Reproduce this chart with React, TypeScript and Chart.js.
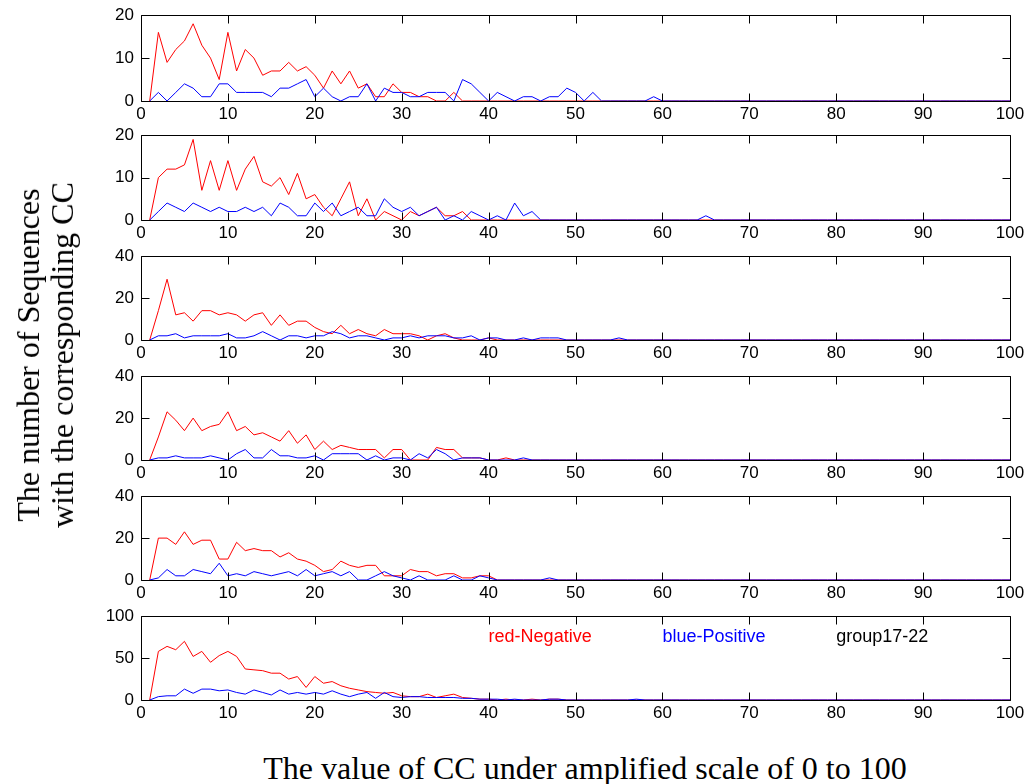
import React, { useEffect, useRef } from 'react';
import { Chart, registerables } from 'chart.js';

Chart.register(...registerables);

// ---------- data (counts per CC value, CC = 1..100) ----------
const yMaxes = [20, 20, 40, 40, 40, 100];
const xTickValues = [0, 10, 20, 30, 40, 50, 60, 70, 80, 90, 100];

const red1 = [
  0, 16, 9, 12, 14, 18, 13, 10, 5, 16,
  7, 12, 10, 6, 7, 7, 9, 7, 8, 6,
  3, 7, 4, 7, 3, 4, 1, 1, 4, 2,
  2, 1, 1, 0, 0, 2, 0, 0, 0, 0,
  0, 0, 0, 0, 0, 0, 0, 0, 0, 0,
  0, 0, 0, 0, 0, 0, 0, 0, 0, 0,
  0, 0, 0, 0, 0, 0, 0, 0, 0, 0,
  0, 0, 0, 0, 0, 0, 0, 0, 0, 0,
  0, 0, 0, 0, 0, 0, 0, 0, 0, 0,
  0, 0, 0, 0, 0, 0, 0, 0, 0, 0,
];
const blue1 = [
  0, 2, 0, 2, 4, 3, 1, 1, 4, 4,
  2, 2, 2, 2, 1, 3, 3, 4, 5, 1,
  3, 1, 0, 1, 1, 4, 0, 3, 2, 2,
  1, 1, 2, 2, 2, 0, 5, 4, 2, 0,
  2, 1, 0, 1, 1, 0, 1, 1, 3, 2,
  0, 2, 0, 0, 0, 0, 0, 0, 1, 0,
  0, 0, 0, 0, 0, 0, 0, 0, 0, 0,
  0, 0, 0, 0, 0, 0, 0, 0, 0, 0,
  0, 0, 0, 0, 0, 0, 0, 0, 0, 0,
  0, 0, 0, 0, 0, 0, 0, 0, 0, 0,
];
const red2 = [
  0, 10, 12, 12, 13, 19, 7, 14, 7, 14,
  7, 12, 15, 9, 8, 10, 6, 11, 5, 6,
  3, 1, 5, 9, 1, 5, 0, 2, 1, 0,
  2, 1, 2, 3, 1, 1, 2, 0, 0, 0,
  0, 0, 0, 0, 0, 0, 0, 0, 0, 0,
  0, 0, 0, 0, 0, 0, 0, 0, 0, 0,
  0, 0, 0, 0, 0, 0, 0, 0, 0, 0,
  0, 0, 0, 0, 0, 0, 0, 0, 0, 0,
  0, 0, 0, 0, 0, 0, 0, 0, 0, 0,
  0, 0, 0, 0, 0, 0, 0, 0, 0, 0,
];
const blue2 = [
  0, 2, 4, 3, 2, 4, 3, 2, 3, 2,
  2, 3, 2, 3, 1, 4, 3, 1, 1, 4,
  2, 4, 1, 2, 3, 1, 1, 5, 3, 2,
  3, 1, 2, 3, 0, 1, 0, 2, 1, 0,
  1, 0, 4, 1, 2, 0, 0, 0, 0, 0,
  0, 0, 0, 0, 0, 0, 0, 0, 0, 0,
  0, 0, 0, 0, 1, 0, 0, 0, 0, 0,
  0, 0, 0, 0, 0, 0, 0, 0, 0, 0,
  0, 0, 0, 0, 0, 0, 0, 0, 0, 0,
  0, 0, 0, 0, 0, 0, 0, 0, 0, 0,
];
const red3 = [
  0, 14, 29, 12, 13, 9, 14, 14, 12, 13,
  12, 9, 12, 13, 7, 12, 7, 9, 9, 6,
  4, 3, 7, 3, 5, 3, 2, 5, 3, 3,
  3, 2, 0, 2, 3, 1, 0, 0, 0, 1,
  0, 0, 0, 0, 0, 0, 0, 0, 0, 0,
  0, 0, 0, 0, 0, 0, 0, 0, 0, 0,
  0, 0, 0, 0, 0, 0, 0, 0, 0, 0,
  0, 0, 0, 0, 0, 0, 0, 0, 0, 0,
  0, 0, 0, 0, 0, 0, 0, 0, 0, 0,
  0, 0, 0, 0, 0, 0, 0, 0, 0, 0,
];
const blue3 = [
  0, 2, 2, 3, 1, 2, 2, 2, 2, 3,
  1, 1, 2, 4, 2, 0, 2, 2, 1, 2,
  2, 4, 3, 1, 2, 2, 1, 0, 1, 1,
  2, 1, 2, 2, 2, 1, 1, 2, 0, 1,
  1, 0, 0, 1, 0, 1, 1, 1, 0, 0,
  0, 0, 0, 0, 1, 0, 0, 0, 0, 0,
  0, 0, 0, 0, 0, 0, 0, 0, 0, 0,
  0, 0, 0, 0, 0, 0, 0, 0, 0, 0,
  0, 0, 0, 0, 0, 0, 0, 0, 0, 0,
  0, 0, 0, 0, 0, 0, 0, 0, 0, 0,
];
const red4 = [
  0, 11, 23, 19, 14, 20, 14, 16, 17, 23,
  14, 16, 12, 13, 11, 9, 14, 8, 12, 5,
  9, 5, 7, 6, 5, 5, 5, 1, 5, 5,
  0, 0, 0, 6, 5, 5, 1, 1, 1, 0,
  0, 1, 0, 0, 0, 0, 0, 0, 0, 0,
  0, 0, 0, 0, 0, 0, 0, 0, 0, 0,
  0, 0, 0, 0, 0, 0, 0, 0, 0, 0,
  0, 0, 0, 0, 0, 0, 0, 0, 0, 0,
  0, 0, 0, 0, 0, 0, 0, 0, 0, 0,
  0, 0, 0, 0, 0, 0, 0, 0, 0, 0,
];
const blue4 = [
  0, 1, 1, 2, 1, 1, 1, 2, 1, 0,
  3, 5, 1, 1, 5, 2, 2, 1, 1, 2,
  0, 3, 3, 3, 3, 0, 2, 0, 1, 1,
  0, 3, 1, 5, 3, 0, 1, 1, 1, 0,
  0, 0, 0, 1, 0, 0, 0, 0, 0, 0,
  0, 0, 0, 0, 0, 0, 0, 0, 0, 0,
  0, 0, 0, 0, 0, 0, 0, 0, 0, 0,
  0, 0, 0, 0, 0, 0, 0, 0, 0, 0,
  0, 0, 0, 0, 0, 0, 0, 0, 0, 0,
  0, 0, 0, 0, 0, 0, 0, 0, 0, 0,
];
const red5 = [
  0, 20, 20, 17, 23, 17, 19, 19, 10, 10,
  18, 14, 15, 14, 14, 11, 13, 10, 9, 7,
  4, 5, 9, 7, 6, 7, 7, 2, 2, 2,
  5, 4, 4, 2, 3, 3, 1, 1, 2, 2,
  0, 0, 0, 0, 0, 0, 0, 0, 0, 0,
  0, 0, 0, 0, 0, 0, 0, 0, 0, 0,
  0, 0, 0, 0, 0, 0, 0, 0, 0, 0,
  0, 0, 0, 0, 0, 0, 0, 0, 0, 0,
  0, 0, 0, 0, 0, 0, 0, 0, 0, 0,
  0, 0, 0, 0, 0, 0, 0, 0, 0, 0,
];
const blue5 = [
  0, 1, 5, 2, 2, 5, 4, 3, 8, 2,
  3, 2, 4, 3, 2, 3, 4, 2, 5, 2,
  3, 4, 2, 4, 0, 0, 2, 4, 2, 1,
  0, 2, 0, 0, 0, 2, 0, 0, 2, 1,
  0, 0, 0, 0, 0, 0, 1, 0, 0, 0,
  0, 0, 0, 0, 0, 0, 0, 0, 0, 0,
  0, 0, 0, 0, 0, 0, 0, 0, 0, 0,
  0, 0, 0, 0, 0, 0, 0, 0, 0, 0,
  0, 0, 0, 0, 0, 0, 0, 0, 0, 0,
  0, 0, 0, 0, 0, 0, 0, 0, 0, 0,
];
const red6 = [
  0, 58, 64, 60, 70, 52, 58, 45, 53, 58,
  52, 37, 36, 35, 32, 32, 25, 28, 15, 28,
  20, 22, 17, 14, 12, 10, 9, 8, 9, 5,
  4, 4, 7, 3, 5, 7, 3, 2, 1, 1,
  0, 1, 0, 0, 1, 0, 1, 1, 0, 0,
  0, 0, 0, 0, 0, 0, 0, 0, 0, 0,
  0, 0, 0, 0, 0, 0, 0, 0, 0, 0,
  0, 0, 0, 0, 0, 0, 0, 0, 0, 0,
  0, 0, 0, 0, 0, 0, 0, 0, 0, 0,
  0, 0, 0, 0, 0, 0, 0, 0, 0, 0,
];
const blue6 = [
  0, 4, 5, 5, 13, 8, 13, 13, 11, 12,
  9, 7, 12, 9, 6, 12, 7, 9, 7, 9,
  7, 11, 7, 4, 7, 9, 2, 9, 4, 3,
  4, 4, 3, 3, 3, 3, 2, 2, 1, 1,
  1, 0, 1, 0, 0, 0, 1, 1, 0, 0,
  0, 0, 0, 0, 0, 0, 1, 0, 0, 0,
  0, 0, 0, 0, 0, 0, 0, 0, 0, 0,
  0, 0, 0, 0, 0, 0, 0, 0, 0, 0,
  0, 0, 0, 0, 0, 0, 0, 0, 0, 0,
  0, 0, 0, 0, 0, 0, 0, 0, 0, 0,
];

const redSeries = [red1, red2, red3, red4, red5, red6];
const blueSeries = [blue1, blue2, blue3, blue4, blue5, blue6];

const noteTexts = ['red-Negative', 'blue-Positive', 'group17-22'];
const noteX = [40, 60, 80];
const noteY = [75, 75, 75];
const noteColors = ['#ff0000', '#0000ff', '#000000'];

// ---------- layout ----------
const W = 1032;
const PLOT_LEFT = 141;
const PLOT_RIGHT = 1010;
const panelTops = [12, 132, 253, 373, 493, 613];
const panelBottoms = [101, 220, 340, 460, 580, 700];
const PAD_TOP = 14;
const XAXIS_H = 30;
const TICK_FONT = { family: '"Liberation Sans", Arial, sans-serif', size: 17 };

const boxPlugin = {
  id: 'matlabBox',
  afterDatasetsDraw(chart: any, _args: any, opts: any) {
    const { ctx, chartArea: a, scales } = chart;
    const L = Math.round(a.left) + 0.5;
    const R = Math.round(a.right) + 0.5;
    const T = Math.round(a.top) + 0.5;
    const B = Math.round(a.bottom) + 0.5;
    ctx.save();
    ctx.strokeStyle = '#000';
    ctx.lineWidth = 1;
    ctx.beginPath();
    ctx.rect(L, T, R - L, B - T);
    const tl = 8;
    scales.x.ticks.forEach((t: any) => {
      const px = Math.round(scales.x.getPixelForValue(t.value)) + 0.5;
      ctx.moveTo(px, B);
      ctx.lineTo(px, B - tl);
      ctx.moveTo(px, T);
      ctx.lineTo(px, T + tl);
    });
    scales.y.ticks.forEach((t: any) => {
      const py = Math.round(scales.y.getPixelForValue(t.value)) + 0.5;
      ctx.moveTo(L, py);
      ctx.lineTo(L + tl, py);
      ctx.moveTo(R, py);
      ctx.lineTo(R - tl, py);
    });
    ctx.stroke();
    if (opts && opts.notes) {
      ctx.font = '18px "Liberation Sans", Arial, sans-serif';
      ctx.textAlign = 'left';
      ctx.textBaseline = 'middle';
      opts.notes.forEach((n: any) => {
        ctx.fillStyle = n.color;
        ctx.fillText(n.text, scales.x.getPixelForValue(n.x), scales.y.getPixelForValue(n.y));
      });
    }
    ctx.restore();
  },
};

function Panel({ idx }: { idx: number }) {
  const ref = useRef<HTMLCanvasElement>(null);
  const top = panelTops[idx] - PAD_TOP;
  const h = panelBottoms[idx] - panelTops[idx] + PAD_TOP + XAXIS_H;
  useEffect(() => {
    if (!ref.current) return;
    const ymax = yMaxes[idx];
    const toPts = (arr: number[]) => arr.map((v, i) => ({ x: i + 1, y: v }));
    const notes =
      idx === 5
        ? noteTexts.map((t, i) => ({ text: t, x: noteX[i], y: noteY[i], color: noteColors[i] }))
        : null;
    const chart = new Chart(ref.current, {
      type: 'line',
      data: {
        datasets: [
          {
            label: 'red-Negative',
            data: toPts(redSeries[idx]),
            borderColor: '#ff0000',
            borderWidth: 1,
            pointRadius: 0,
            tension: 0,
            order: 2,
          },
          {
            label: 'blue-Positive',
            data: toPts(blueSeries[idx]),
            borderColor: '#0000ff',
            borderWidth: 1,
            pointRadius: 0,
            tension: 0,
            order: 1,
          },
        ],
      },
      options: {
        animation: false,
        responsive: true,
        maintainAspectRatio: false,
        layout: { padding: { top: PAD_TOP, right: W - PLOT_RIGHT, bottom: 0, left: 0 } },
        plugins: {
          legend: { display: false },
          tooltip: { enabled: false },
          matlabBox: { notes },
        } as any,
        scales: {
          x: {
            type: 'linear',
            min: 0,
            max: 100,
            afterBuildTicks: (s: any) => {
              s.ticks = xTickValues.map((v) => ({ value: v }));
            },
            afterFit: (s: any) => {
              s.height = XAXIS_H;
            },
            grid: { display: false, drawTicks: false },
            border: { display: false },
            ticks: { color: '#000', font: TICK_FONT, padding: 3, maxRotation: 0, autoSkip: false },
          },
          y: {
            type: 'linear',
            min: 0,
            max: ymax,
            afterBuildTicks: (s: any) => {
              s.ticks = [0, ymax / 2, ymax].map((v) => ({ value: v }));
            },
            afterFit: (s: any) => {
              s.width = PLOT_LEFT;
            },
            grid: { display: false, drawTicks: false },
            border: { display: false },
            ticks: { color: '#000', font: TICK_FONT, padding: 7 },
          },
        },
      } as any,
      plugins: [boxPlugin as any],
    });
    return () => chart.destroy();
  }, [idx]);
  return (
    <div style={{ position: 'absolute', left: 0, top, width: W, height: h }}>
      <canvas ref={ref} />
    </div>
  );
}

export default function App() {
  return (
    <div
      style={{
        position: 'absolute',
        left: 0,
        top: 0,
        width: W,
        height: 784,
        background: '#fff',
        overflow: 'hidden',
      }}
    >
      {panelTops.map((_, i) => (
        <Panel key={i} idx={i} />
      ))}
      <div
        style={{
          position: 'absolute',
          left: 45,
          top: 355,
          transform: 'translate(-50%, -50%) rotate(-90deg)',
          whiteSpace: 'nowrap',
          textAlign: 'center',
          fontFamily: '"Liberation Serif", "Times New Roman", serif',
          fontSize: 32,
          lineHeight: '34px',
          color: '#000',
        }}
      >
        The number of Sequences
        <br />
        with the corresponding CC
      </div>
      <div
        style={{
          position: 'absolute',
          left: 585,
          top: 750,
          transform: 'translateX(-50%)',
          whiteSpace: 'nowrap',
          fontFamily: '"Liberation Serif", "Times New Roman", serif',
          fontSize: 32,
          lineHeight: '36px',
          color: '#000',
        }}
      >
        The value of CC under amplified scale of 0 to 100
      </div>
    </div>
  );
}
